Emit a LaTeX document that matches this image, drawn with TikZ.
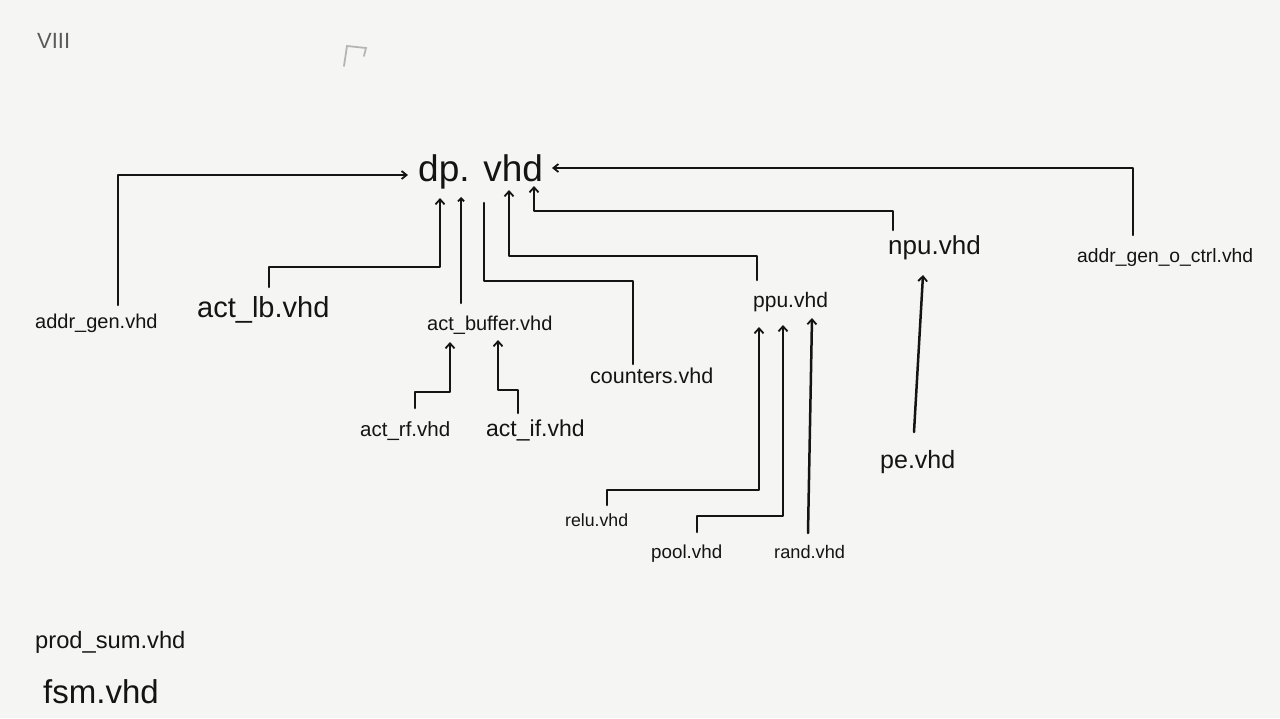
\documentclass[tikz,border=0pt]{standalone}
\usepackage{fontspec}
\setmainfont{Liberation Sans}
\usetikzlibrary{arrows.meta,calc}
\definecolor{paper}{RGB}{245,245,243}
\definecolor{ink}{RGB}{20,20,20}
\definecolor{pencil}{RGB}{90,90,90}
\tikzset{
  lbl/.style={anchor=base west, inner sep=0pt, text=ink, font=\fontsize{#1pt}{#1pt}\selectfont},
  wire/.style={draw=ink, line width=2.5pt, line join=round, line cap=round},
  arr/.style={wire, -{Straight Barb[length=5pt,width=9pt,line width=1.8pt]}},
  smallarr/.style={wire, -{Straight Barb[length=3pt,width=6pt,line width=1.8pt]}},
  harr/.style={wire, -{Straight Barb[length=5pt,width=8pt,line width=1.8pt]}}
}
\begin{document}
\begin{tikzpicture}[x=1pt,y=-1pt]
\fill[paper] (0,0) rectangle (1280,718);
\useasboundingbox (0,0) rectangle (1280,718);

% labels
\node[lbl=22, text=pencil] (viii) at (37,48) {VIII};
\node[lbl=37] (dp) at (418,181) {dp. vhd};
\node[lbl=20] (addrgen) at (35,328) {addr\_gen.vhd};
\node[lbl=29] (actlb) at (197,317) {act\_lb.vhd};
\node[lbl=20] (actbuffer) at (427,330) {act\_buffer.vhd};
\node[lbl=21.5] (counters) at (590,383) {counters.vhd};
\node[lbl=20.5] (actrf) at (360,436) {act\_rf.vhd};
\node[lbl=23] (actif) at (486,436) {act\_if.vhd};
\node[lbl=21] (ppu) at (753,307) {ppu.vhd};
\node[lbl=26] (npu) at (888,254) {npu.vhd};
\node[lbl=19.3] (addrgenoctrl) at (1077,262) {addr\_gen\_o\_ctrl.vhd};
\node[lbl=25] (pe) at (880,468) {pe.vhd};
\node[lbl=17.7] (relu) at (565,526) {relu.vhd};
\node[lbl=18.8] (pool) at (651,558) {pool.vhd};
\node[lbl=18.2] (rand) at (774,558) {rand.vhd};
\node[lbl=23.7] (prodsum) at (35,648) {prod\_sum.vhd};
\node[lbl=33] (fsm) at (43,703) {fsm.vhd};

% faint stray pencil mark
\draw[pencil!45, line width=1.8pt, line cap=round] (344,66) -- (347,46) -- (366,48) -- (364,56);

% connectors into dp.vhd
\draw[harr] (addrgen.base west) ++(83,-23) |- ($(dp.base west)+(-10,-6)$);
\draw[arr] (actlb.base west) ++(72,-30) |- (440,267) -- ($(dp.base west)+(22,17)$);
\draw[smallarr] (actbuffer.base west) ++(34,-27) -- ($(dp.base west)+(43,16)$);
\draw[wire] (counters.base west) ++(43,-19) |- (484,281) -- ($(dp.base west)+(66,22)$);
\draw[arr] (ppu.base west) ++(4,-27) |- (509,256) -- ($(dp.base west)+(91,9)$);
\draw[arr] (npu.base west) ++(5,-24) |- (534,211) -- ($(dp.base west)+(116,5)$);
\draw[harr] (addrgenoctrl.base west) ++(56,-27) |- ($(dp.base west)+(134,-13)$);

% connectors into act_buffer.vhd
\draw[arr] (actrf.base west) ++(55,-28) |- (450,392) -- ($(actbuffer.base west)+(23,12)$);
\draw[arr] (actif.base west) ++(32,-23) |- (498,390) -- ($(actbuffer.base west)+(71,10)$);

% connectors into ppu.vhd
\draw[arr] (relu.base west) ++(42,-21) |- (759,490) -- ($(ppu.base west)+(6,20)$);
\draw[arr] (pool.base west) ++(46,-26) |- (783,516) -- ($(ppu.base west)+(30,18)$);
\draw[arr] (rand.base west) ++(34,-25) -- ($(ppu.base west)+(59,11)$);

% connector into npu.vhd
\draw[arr] (pe.base west) ++(34,-36) -- ($(npu.base west)+(35,21)$);
\end{tikzpicture}
\end{document}
